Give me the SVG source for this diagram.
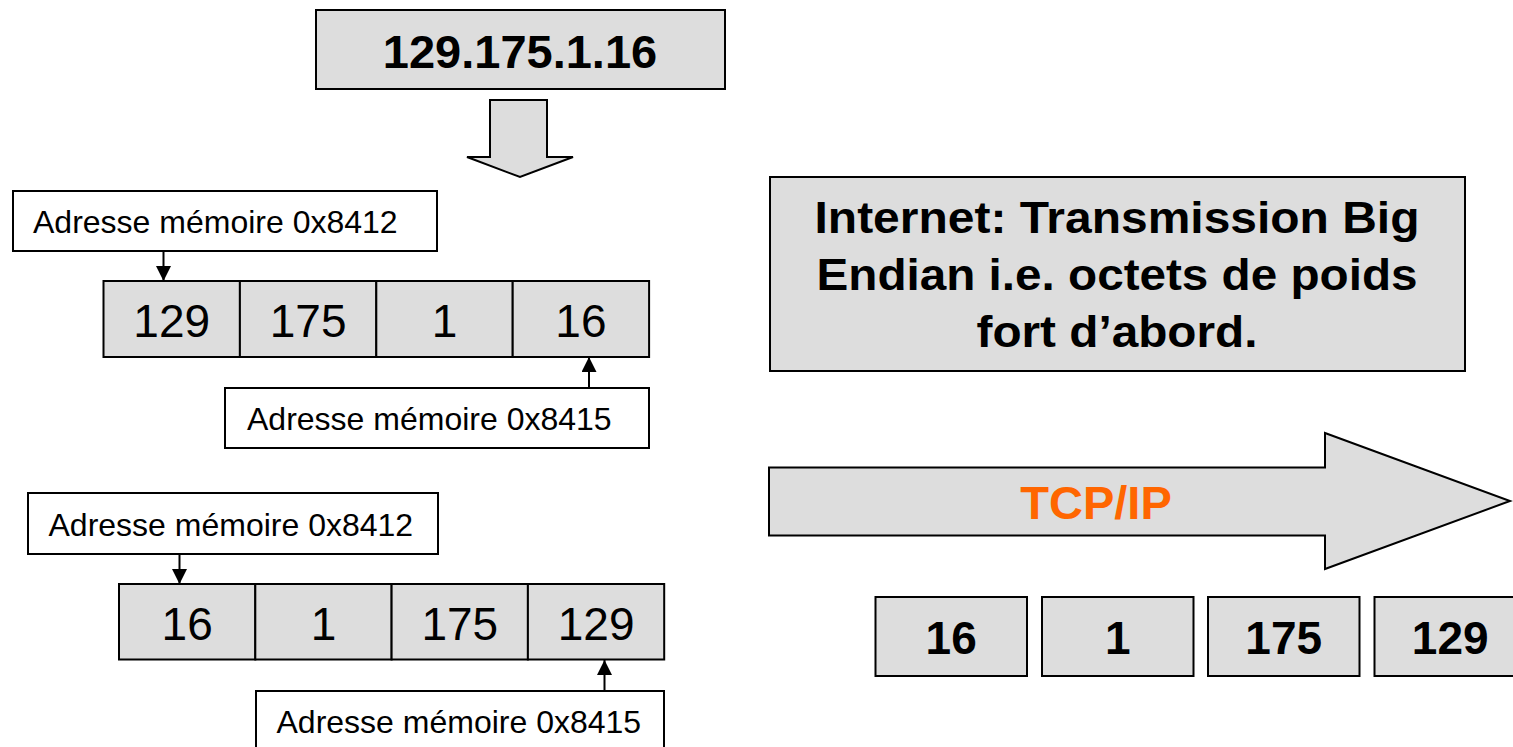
<svg xmlns="http://www.w3.org/2000/svg" width="1513" height="747" viewBox="0 0 1513 747">
  <defs>
    <style>
      .box { fill: #DDDDDD; stroke: #000; stroke-width: 2; }
      .label { fill: #FFFFFF; stroke: #000; stroke-width: 2; }
      .txt { font-family: "Liberation Sans", Arial, sans-serif; fill: #000; }
      .reg { font-size: 32px; }
      .num { font-size: 46px; text-anchor: middle; }
      .bold { font-weight: bold; }
      .conn { stroke: #000; stroke-width: 2; fill: none; }
    </style>
    <marker id="head" viewBox="0 0 10 10" refX="10" refY="5" markerWidth="15" markerHeight="15" markerUnits="userSpaceOnUse" orient="auto">
      <path d="M0,0 L10,5 L0,10 Z" fill="#000"/>
    </marker>
  </defs>

  <!-- IP address -->
  <g id="ip-address">
    <rect class="box" x="316" y="10" width="409" height="79"/>
    <text class="txt num bold" x="520" y="68" style="font-size:47px">129.175.1.16</text>
  </g>

  <!-- block arrow pointing down -->
  <g id="down-arrow">
    <path class="box" d="M490,100 L547,100 L547,157 L573,157 L520,177 L467,157 L490,157 Z"/>
  </g>

  <!-- first memory layout -->
  <g id="addr-1a">
    <rect class="label" x="13" y="191" width="424" height="60"/>
    <text class="txt reg" x="33" y="233">Adresse mémoire 0x8412</text>
  </g>
  <g id="mem-1">
    <rect class="box" x="103.5" y="281" width="136.4" height="76"/>
    <rect class="box" x="239.9" y="281" width="136.4" height="76"/>
    <rect class="box" x="376.3" y="281" width="136.4" height="76"/>
    <rect class="box" x="512.7" y="281" width="136.4" height="76"/>
    <text class="txt num" x="171.7" y="337">129</text>
    <text class="txt num" x="308.1" y="337">175</text>
    <text class="txt num" x="444.5" y="337">1</text>
    <text class="txt num" x="580.9" y="337">16</text>
  </g>
  <g id="addr-1b">
    <rect class="label" x="225" y="388" width="424" height="60"/>
    <text class="txt reg" x="247" y="430">Adresse mémoire 0x8415</text>
  </g>

  <!-- second memory layout -->
  <g id="addr-2a">
    <rect class="label" x="28" y="493" width="410" height="61"/>
    <text class="txt reg" x="48.5" y="536">Adresse mémoire 0x8412</text>
  </g>
  <g id="mem-2">
    <rect class="box" x="119" y="584" width="136.3" height="75.5"/>
    <rect class="box" x="255.3" y="584" width="136.3" height="75.5"/>
    <rect class="box" x="391.6" y="584" width="136.3" height="75.5"/>
    <rect class="box" x="527.9" y="584" width="136.3" height="75.5"/>
    <text class="txt num" x="187.2" y="640">16</text>
    <text class="txt num" x="323.5" y="640">1</text>
    <text class="txt num" x="459.8" y="640">175</text>
    <text class="txt num" x="596.1" y="640">129</text>
  </g>
  <g id="addr-2b">
    <rect class="label" x="256" y="691" width="408" height="58"/>
    <text class="txt reg" x="276.5" y="733">Adresse mémoire 0x8415</text>
  </g>

  <!-- pointer connectors -->
  <g id="connectors">
    <line class="conn" x1="163.5" y1="251" x2="163.5" y2="281" marker-end="url(#head)"/>
    <line class="conn" x1="589" y1="388" x2="589" y2="357" marker-end="url(#head)"/>
    <line class="conn" x1="179.5" y1="554" x2="179.5" y2="584" marker-end="url(#head)"/>
    <line class="conn" x1="604.5" y1="691" x2="604.5" y2="660" marker-end="url(#head)"/>
  </g>

  <!-- note -->
  <g id="note">
    <rect class="box" x="770" y="177" width="695" height="194"/>
    <text class="txt bold" x="1117" y="233" text-anchor="middle" style="font-size:44px" textLength="605" lengthAdjust="spacingAndGlyphs">Internet: Transmission Big</text>
    <text class="txt bold" x="1117" y="290" text-anchor="middle" style="font-size:44px" textLength="601" lengthAdjust="spacingAndGlyphs">Endian i.e. octets de poids</text>
    <text class="txt bold" x="1117" y="347" text-anchor="middle" style="font-size:44px" textLength="281" lengthAdjust="spacingAndGlyphs">fort d’abord.</text>
  </g>

  <!-- TCP/IP block arrow -->
  <g id="tcpip">
    <path class="box" d="M769,467.5 L1325,467.5 L1325,433 L1510,501 L1325,569 L1325,535.5 L769,535.5 Z"/>
    <text class="txt bold" x="1096" y="519" text-anchor="middle" style="font-size:47px; fill:#FF6600">TCP/IP</text>
  </g>

  <!-- transmitted bytes -->
  <g id="byte-16">
    <rect class="box" x="875.5" y="597" width="151.5" height="79"/>
    <text class="txt num bold" x="951.2" y="654">16</text>
  </g>
  <g id="byte-1">
    <rect class="box" x="1042" y="597" width="151.5" height="79"/>
    <text class="txt num bold" x="1117.7" y="654">1</text>
  </g>
  <g id="byte-175">
    <rect class="box" x="1208" y="597" width="151.5" height="79"/>
    <text class="txt num bold" x="1283.7" y="654">175</text>
  </g>
  <g id="byte-129">
    <rect class="box" x="1374.5" y="597" width="151.5" height="79"/>
    <text class="txt num bold" x="1450.2" y="654">129</text>
  </g>
</svg>
